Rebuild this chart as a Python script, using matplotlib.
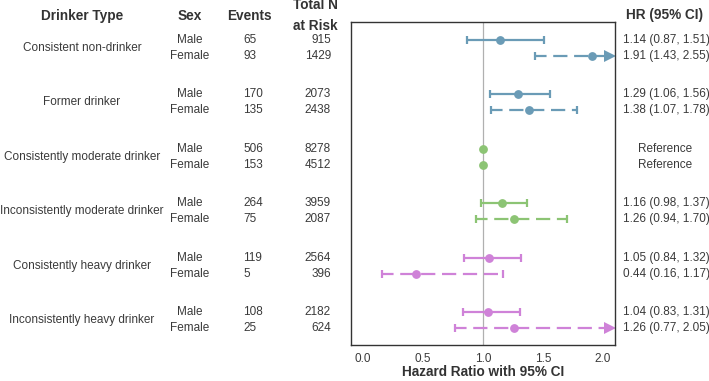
import numpy as np
import matplotlib.pyplot as plt
from matplotlib.transforms import blended_transform_factory

plt.rcParams['font.family'] = ['Liberation Sans', 'DejaVu Sans']

# Data
drinker_types = ['Consistent non-drinker', 'Former drinker', 'Consistently moderate drinker',
                 'Inconsistently moderate drinker', 'Consistently heavy drinker',
                 'Inconsistently heavy drinker']
events_male = [65, 170, 506, 264, 119, 108]
events_female = [93, 135, 153, 75, 5, 25]
total_male = [915, 2073, 8278, 3959, 2564, 2182]
total_female = [1429, 2438, 4512, 2087, 396, 624]
hr_male = [1.14, 1.29, 1.00, 1.16, 1.05, 1.04]
lo_male = [0.87, 1.06, np.nan, 0.98, 0.84, 0.83]
hi_male = [1.51, 1.56, np.nan, 1.37, 1.32, 1.31]
hr_female = [1.91, 1.38, 1.00, 1.26, 0.44, 1.26]
lo_female = [1.43, 1.07, np.nan, 0.94, 0.16, 0.77]
hi_female = [2.55, 1.78, np.nan, 1.70, 1.17, 2.05]
is_reference = [False, False, True, False, False, False]

group_colors = ['#6a9bb6', '#6a9bb6', '#8cc474', '#8cc474', '#cf82d8', '#cf82d8']

W, H = 709, 381
fig = plt.figure(figsize=(W / 100, H / 100), dpi=100)
ax = fig.add_axes([351 / W, 1 - 345 / H, (615 - 351) / W, (345 - 22) / H])

xmin, xmax = -0.1, 2.1
cut = 2.0  # CIs reaching past this get an arrow at the frame edge
gap = 3.45
ax.set_xlim(xmin, xmax)
ax.set_ylim(gap * 5 + 1 + 1.06, -1.12)
ax.axvline(1.0, color='#b0b0b0', lw=0.9, zorder=0)

tr = blended_transform_factory(fig.transFigure, ax.transData)
txt = dict(fontsize=8.5, color='#3a3a3a', va='center')


def draw_row(y, hr, lo, hi, color, dashed, ref):
    ls = (1.2, (6.4, 3.0)) if dashed else '-'
    if ref:
        ax.plot(hr, y, 'o', color=color, ms=5.3)
        return
    ax.plot(lo, y, '|', color=color, ms=6, mew=1.6)
    if hi > cut:
        tip = xmax - 5.5 / 120
        ax.plot([lo, tip], [y, y], color=color, lw=1.6, linestyle=ls, solid_capstyle='butt')
        ax.plot(tip, y, '>', color=color, ms=8, mew=0)
    else:
        ax.plot([lo, hi], [y, y], color=color, lw=1.6, linestyle=ls, solid_capstyle='butt')
        ax.plot(hi, y, '|', color=color, ms=6, mew=1.6)
    ax.plot(hr, y, 'o', color=color, ms=5.3)


for i, name in enumerate(drinker_types):
    ym = i * gap
    yf = ym + 1
    c = group_colors[i]
    draw_row(ym, hr_male[i], lo_male[i], hi_male[i], c, False, is_reference[i])
    draw_row(yf, hr_female[i], lo_female[i], hi_female[i], c, True, is_reference[i])

    ax.text(82 / W, ym + 0.5, name, transform=tr, ha='center', **txt)
    ax.text(190 / W, ym, 'Male', transform=tr, ha='center', **txt)
    ax.text(190 / W, yf, 'Female', transform=tr, ha='center', **txt)
    ax.text(243 / W, ym, str(events_male[i]), transform=tr, ha='left', **txt)
    ax.text(243 / W, yf, str(events_female[i]), transform=tr, ha='left', **txt)
    ax.text(331 / W, ym, str(total_male[i]), transform=tr, ha='right', **txt)
    ax.text(331 / W, yf, str(total_female[i]), transform=tr, ha='right', **txt)
    if is_reference[i]:
        ax.text(665 / W, ym, 'Reference', transform=tr, ha='center', **txt)
        ax.text(665 / W, yf, 'Reference', transform=tr, ha='center', **txt)
    else:
        ax.text(623 / W, ym, f'{hr_male[i]:.2f} ({lo_male[i]:.2f}, {hi_male[i]:.2f})',
                transform=tr, ha='left', **txt)
        ax.text(623 / W, yf, f'{hr_female[i]:.2f} ({lo_female[i]:.2f}, {hi_female[i]:.2f})',
                transform=tr, ha='left', **txt)

hdr = dict(fontsize=9.8, fontweight='bold', color='#333333', va='center')
fig.text(82 / W, 1 - 16 / H, 'Drinker Type', ha='center', **hdr)
fig.text(190 / W, 1 - 16 / H, 'Sex', ha='center', **hdr)
fig.text(249 / W, 1 - 16 / H, 'Events', ha='center', **hdr)
fig.text(315 / W, 1 - 15.5 / H, 'Total N\nat Risk', ha='center', linespacing=1.55, **hdr)
fig.text(665 / W, 1 - 15 / H, 'HR (95% CI)', ha='center', **hdr)

ax.set_yticks([])
ax.set_xticks([0.0, 0.5, 1.0, 1.5, 2.0])
ax.set_xticklabels(['0.0', '0.5', '1.0', '1.5', '2.0'])
ax.tick_params(axis='x', length=0, pad=6, labelsize=8.5, labelcolor='#3a3a3a')
ax.set_xlabel('Hazard Ratio with 95% CI', fontsize=9.8, fontweight='bold', color='#333333')
ax.xaxis.set_label_coords(0.5, -27.5 / 323)
ax.xaxis.label.set_va('center')
for s in ax.spines.values():
    s.set_color('#333333')
    s.set_linewidth(1.0)

fig.savefig('out.png', dpi=100)
